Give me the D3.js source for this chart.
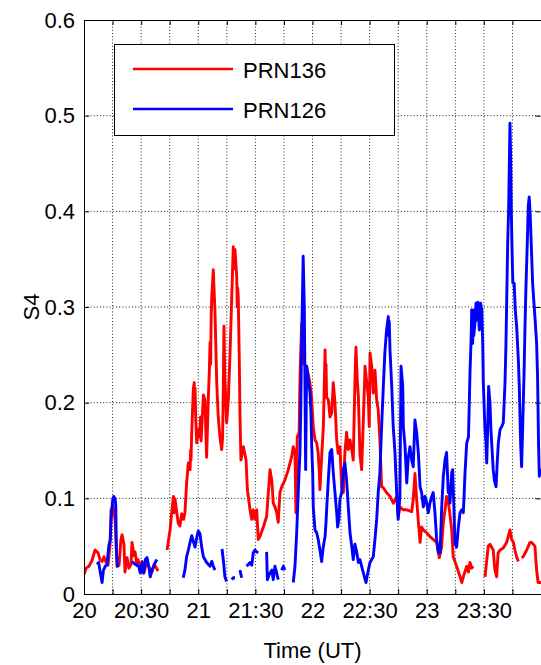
<!DOCTYPE html>
<html><head><meta charset="utf-8">
<script src="https://cdn.jsdelivr.net/npm/d3@7"></script>
<style>
html,body{margin:0;padding:0;background:#fff;}
svg text{font-family:"Liberation Sans",Arial,sans-serif;fill:#000;}
</style></head>
<body><svg id="c" width="541" height="665"></svg>
<script>
// minutes after 20:00 UT
const xTickValues = [0,15,30,45,60,75,90,105,120,135,150,165,180,195,210,225];
const xTickLabels = {0:"20",30:"20:30",60:"21",90:"21:30",120:"22",150:"22:30",180:"23",210:"23:30"};
const yTickValues = [0,0.1,0.2,0.3,0.4,0.5,0.6];
const yTickLabels = ["0","0.1","0.2","0.3","0.4","0.5","0.6"];
const seriesNames = ["PRN136","PRN126"];
const seriesColors = ["#ff0000","#0000ff"];

const prn136 = [
[0,.020],[1.1,.027],[2.6,.029],[4.2,.035],[5.8,.046],[7.4,.043],[8.4,.036],[9.5,.034],[10.5,.039],[11.6,.033],[12.6,.030],[13.7,.052],[14.2,.088],[14.7,.090],[15.2,.092],[16.3,.078],[16.8,.057],[17.3,.029],[18.4,.030],[19.4,.057],[20.0,.062],[21.0,.052],[21.5,.023],[22.6,.038],[23.6,.027],[24.7,.031],[25.2,.054],[26.3,.040],[26.8,.044],[27.8,.030],[28.4,.036],[29.4,.025],[30.5,.034],[31.5,.022],[32.6,.031],[33.6,.030],[34.7,.026],[35.7,.023],[36.8,.031],[37.8,.028],[38.9,.024],
null,
[43.6,.046],[45.2,.067],[46.2,.088],[47.0,.102],[47.3,.085],[47.5,.100],[47.8,.099],[48.7,.086],[49.5,.074],[50.4,.071],[51.3,.084],[52.3,.078],[53.0,.085],[53.9,.116],[54.8,.137],[55.7,.130],[56.0,.150],[56.2,.140],[56.5,.164],[57.4,.214],[57.9,.221],[58.1,.195],[58.3,.215],[58.7,.182],[59.2,.158],[60.0,.172],[60.9,.164],[61.2,.185],[61.5,.160],[61.8,.172],[62.7,.208],[63.5,.203],[64.4,.143],[65.3,.206],[65.8,.231],[66.2,.263],[66.5,.240],[66.8,.290],[67.1,.311],[67.9,.339],[68.8,.294],[69.7,.221],[70.5,.185],[71.4,.164],[72.3,.151],[72.8,.164],[73.1,.206],[73.5,.280],[74.0,.224],[74.9,.179],[75.8,.203],[76.7,.252],[77.6,.311],[78.4,.363],[78.7,.340],[79.0,.358],[79.3,.360],[80.2,.332],[80.5,.300],[80.7,.320],[81.0,.311],[81.6,.238],[81.9,.189],[82.4,.140],[83.7,.154],[85.1,.140],[85.8,.109],[87.2,.088],[88.1,.078],[88.9,.088],[89.8,.078],[90.7,.088],[91.5,.057],[92.4,.060],[94.2,.070],[95.9,.081],[96.8,.106],[97.7,.130],[98.6,.119],[99.4,.095],[100.3,.091],[101.2,.085],[102.0,.075],[102.9,.106],[103.8,.112],[105.5,.119],[107.3,.130],[109.0,.143],[109.9,.154],[110.8,.148],[111.3,.085],[112.0,.164],[113.0,.169],[113.4,.224],[114.3,.283],[115.1,.241],[116.9,.238],[118.6,.221],[119.5,.206],[120.4,.175],[121.3,.161],[122.2,.158],[123.0,.147],[123.6,.126],[123.9,.109],[124.8,.143],[125.7,.175],[126.6,.255],[126.9,.220],[127.1,.240],[127.4,.206],[128.3,.203],[129.2,.185],[130.1,.189],[130.9,.221],[131.8,.200],[132.7,.161],[133.5,.147],[134.4,.154],[135.3,.112],[136.2,.106],[137.0,.147],[137.9,.169],[138.8,.151],[139.7,.161],[140.6,.151],[141.4,.140],[142.3,.224],[142.8,.258],[143.5,.224],[144.1,.206],[144.9,.147],[145.8,.130],[146.7,.182],[147.6,.238],[148.5,.221],[149.3,.206],[149.8,.175],[150.2,.252],[151.1,.238],[151.9,.210],[152.8,.234],[153.7,.203],[154.5,.193],[155.4,.161],[156.3,.112],[157.2,.111],[158.9,.106],[160.7,.102],[162.4,.095],[164.2,.102],[165.0,.081],[165.9,.091],[167.7,.088],[169.5,.088],[172.1,.086],[172.9,.099],[173.8,.126],[174.7,.099],[175.6,.075],[176.5,.054],[177.3,.070],[178.2,.067],[180.0,.064],[181.7,.060],[183.4,.057],[185.2,.054],[186.6,.038],[187.8,.049],[188.7,.075],[189.6,.088],[190.4,.102],[191.1,.099],[192.2,.083],[193.1,.067],[193.9,.039],[195.7,.029],[197.5,.018],[198.4,.012],[199.2,.018],[201.0,.029],[201.9,.023],[202.7,.033],[203.6,.027],[204.4,.029],
null,
[210.6,.018],[212.3,.050],[213.2,.052],[214.9,.046],[215.8,.025],[216.7,.018],[217.5,.043],[218.5,.046],[220.2,.048],[222.0,.054],[222.8,.060],[223.7,.067],[224.6,.057],[225.5,.054],[226.3,.046],[227.2,.039],[228.1,.034],
null,
[229.8,.038],[230.7,.039],[232.5,.046],[234.2,.054],[235.1,.054],[236.8,.050],[237.7,.025],[238.5,.012],[240,.012]
];

const prn126 = [
[6.8,.031],[7.7,.033],[8.6,.022],[9.5,.012],[10.2,.025],[11.2,.029],[12.1,.031],[13.0,.050],[13.8,.057],[14.3,.081],[15.1,.099],[15.6,.102],[16.4,.099],[16.7,.091],[17.0,.046],[17.6,.029],[18.1,.030],
null,
[25.2,.034],[26.9,.031],[28.7,.029],[29.6,.022],[30.5,.033],[31.3,.022],[32.2,.036],[33.1,.038],[34.0,.029],[34.8,.018],[35.7,.025],[36.6,.029],[37.4,.033],[38.3,.036],
null,
[52.1,.017],[53.0,.025],[53.9,.039],[54.8,.046],[55.7,.054],[56.6,.061],[57.4,.055],[58.3,.049],[59.2,.059],[60.0,.066],[60.9,.063],[61.8,.049],[62.7,.039],[64.4,.033],[66.2,.029],[67.1,.034],[67.9,.029],[68.8,.025],
null,
[72.5,.047],[73.3,.033],[74.0,.018],[74.9,.013],
null,
[77.6,.015],[78.4,.017],[79.3,.017],
null,
[81.9,.025],[82.8,.017],
null,
[85.4,.029],[87.2,.033],[88.1,.030],[88.9,.043],[89.8,.046],[90.7,.044],[91.5,.043],
null,
[95.9,.044],[96.3,.015],[97.2,.020],[98.6,.025],[99.4,.015],[100.3,.029],[101.2,.022],[102.0,.015],
null,
[103.8,.025],[104.7,.029],[105.5,.025],
null,
[109.9,.012],[110.8,.029],[111.7,.064],[112.5,.106],[113.4,.148],[113.8,.189],[114.3,.266],[114.8,.318],[115.1,.353],[115.7,.300],[116.0,.231],[116.4,.130],[116.9,.238],[117.8,.224],[118.7,.210],[119.2,.189],[119.6,.154],[120.1,.127],[120.4,.091],[121.3,.067],[122.2,.064],[123.0,.057],[123.9,.046],[124.8,.034],[125.7,.050],[126.6,.060],[127.1,.075],[127.5,.091],[128.3,.119],[129.2,.148],[130.1,.151],[130.9,.127],[131.8,.106],[132.7,.085],[133.2,.070],[133.9,.078],[134.4,.099],[135.3,.106],[136.2,.130],[137.0,.137],[137.9,.119],[138.8,.091],[139.7,.064],[140.6,.050],[141.4,.036],[142.3,.052],[143.2,.044],[144.1,.033],[144.9,.036],[146.7,.022],[148.1,.012],[149.3,.025],[150.2,.033],[151.9,.039],[152.8,.057],[153.7,.078],[154.5,.106],[155.4,.127],[156.3,.175],[157.2,.217],[158.0,.252],[158.9,.276],[159.8,.290],[160.1,.270],[160.3,.285],[160.7,.255],[161.6,.217],[162.4,.175],[163.3,.148],[164.2,.106],[165.0,.078],[165.9,.102],[166.5,.238],[167.4,.217],[167.7,.175],[168.6,.154],[169.5,.116],[170.3,.143],[171.2,.154],[172.1,.140],[172.9,.133],[173.8,.182],[174.7,.169],[175.6,.147],[176.5,.112],[177.3,.106],[178.2,.091],[179.1,.102],[180.0,.095],[180.8,.085],[181.7,.095],[182.6,.102],[183.4,.106],[184.3,.085],[185.2,.057],[186.1,.043],[187.0,.043],[187.8,.088],[188.7,.123],[189.6,.140],[190.4,.148],[191.3,.106],[191.8,.112],[192.2,.095],[193.1,.127],[193.6,.130],[194.3,.088],[194.8,.053],[195.7,.049],[196.6,.070],[197.5,.085],[198.4,.088],[199.2,.085],[199.6,.102],[200.1,.127],[201.0,.158],[201.9,.164],[202.4,.203],[202.7,.231],[203.3,.266],[203.6,.297],[204.1,.262],[204.4,.297],[204.7,.270],[205.3,.283],[205.9,.304],[206.5,.286],[206.8,.305],[207.1,.297],[207.6,.276],[208.3,.304],[208.9,.297],[209.4,.262],[209.7,.221],[210.6,.172],[211.1,.158],[211.5,.137],[212.0,.172],[212.5,.217],[213.2,.200],[213.7,.172],[214.1,.158],[214.9,.130],[215.5,.119],[216.4,.112],[217.0,.137],[217.6,.158],[218.5,.172],[219.4,.175],[220.2,.179],[221.1,.221],[221.6,.262],[222.0,.307],[222.5,.367],[223.0,.402],[223.4,.454],[223.7,.492],[224.1,.454],[224.4,.402],[224.8,.360],[225.2,.325],[225.9,.325],[226.5,.297],[227.2,.280],[228.1,.245],[228.6,.217],[229.3,.158],[229.8,.133],[230.4,.175],[231.1,.231],[231.6,.280],[232.1,.321],[232.8,.367],[233.3,.405],[233.8,.415],[234.3,.398],[235.1,.353],[235.6,.325],[236.3,.304],[236.8,.290],[237.7,.262],[238.2,.227],[238.7,.158],[239.1,.123],[239.4,.130],[240,.123]
];

const series = [prn136, prn126];

const svg = d3.select("#c");
const L = 84, R = 541, T = 20, B = 594;
const x = d3.scaleLinear().domain([0,240]).range([L,R]);
const y = d3.scaleLinear().domain([0,0.6]).range([B,T]);
const fs = 22;

// grid
const grid = svg.append("g");
xTickValues.filter(v=>v>0).forEach(v=>{
  grid.append("line").attr("x1",x(v)).attr("x2",x(v)).attr("y1",B).attr("y2",T);
});
yTickValues.filter(v=>v>0 && v<0.6).forEach(v=>{
  grid.append("line").attr("x1",L).attr("x2",R).attr("y1",y(v)).attr("y2",y(v));
});
grid.selectAll("line").attr("stroke","#222").attr("stroke-width",1).attr("stroke-dasharray","1,2.2");

// data lines
svg.append("clipPath").attr("id","clip").append("rect").attr("x",L).attr("y",T).attr("width",R-L).attr("height",B-T);
const line = d3.line().defined(d=>d!==null).x(d=>x(d[0])).y(d=>y(d[1]));
series.forEach((s,i)=>{
  svg.append("path").attr("d",line(s)).attr("fill","none").attr("stroke",seriesColors[i])
    .attr("stroke-width",2.9).attr("stroke-linejoin","round").attr("clip-path","url(#clip)");
});

// axes (inward ticks)
const tk = 5;
const xAxis = d3.axisBottom(x).tickValues(xTickValues).tickSizeInner(-tk).tickSizeOuter(0).tickPadding(8)
  .tickFormat(v=>xTickLabels[v]||"");
const gx = svg.append("g").attr("transform",`translate(0,${B})`).call(xAxis);
gx.select(".domain").remove();
gx.selectAll("text").attr("font-size",fs).attr("font-family","Liberation Sans, Arial").attr("dy","0.74em");
const xTop = d3.axisTop(x).tickValues(xTickValues).tickSizeInner(-tk).tickSizeOuter(0).tickFormat("");
const gxt = svg.append("g").attr("transform",`translate(0,${T})`).call(xTop);
gxt.select(".domain").remove();

const yAxis = d3.axisLeft(y).tickValues(yTickValues).tickSizeInner(-tk).tickSizeOuter(0).tickPadding(9)
  .tickFormat((v,i)=>yTickLabels[i]);
const gy = svg.append("g").attr("transform",`translate(${L},0)`).call(yAxis);
gy.select(".domain").remove();
gy.selectAll("text").attr("font-size",fs).attr("font-family","Liberation Sans, Arial");
const yRight = d3.axisRight(y).tickValues(yTickValues).tickSizeInner(-tk).tickSizeOuter(0).tickFormat("");
const gyr = svg.append("g").attr("transform",`translate(${R-0.5},0)`).call(yRight);
gyr.select(".domain").remove();
svg.selectAll(".tick line").attr("stroke","#000");

// frame
svg.append("rect").attr("x",L+0.5).attr("y",T+0.5).attr("width",R-L).attr("height",B-T)
  .attr("fill","none").attr("stroke","#000").attr("stroke-width",1);

// axis titles
svg.append("text").attr("x",(L+R)/2).attr("y",658).attr("text-anchor","middle").attr("font-size",fs).text("Time (UT)");
svg.append("text").attr("transform",`translate(39,${(T+B)/2}) rotate(-90)`).attr("text-anchor","middle")
  .attr("font-size",fs).text("S4");

// legend
const lg = svg.append("g");
lg.append("rect").attr("x",114.5).attr("y",44.5).attr("width",280).attr("height",91)
  .attr("fill","#fff").attr("stroke","#000").attr("stroke-width",1);
seriesNames.forEach((n,i)=>{
  const yy = 69 + i*40;
  lg.append("line").attr("x1",133).attr("x2",233).attr("y1",yy).attr("y2",yy)
    .attr("stroke",seriesColors[i]).attr("stroke-width",2.6);
  lg.append("text").attr("x",243).attr("y",yy+9).attr("font-size",fs).text(n);
});
</script></body></html>
